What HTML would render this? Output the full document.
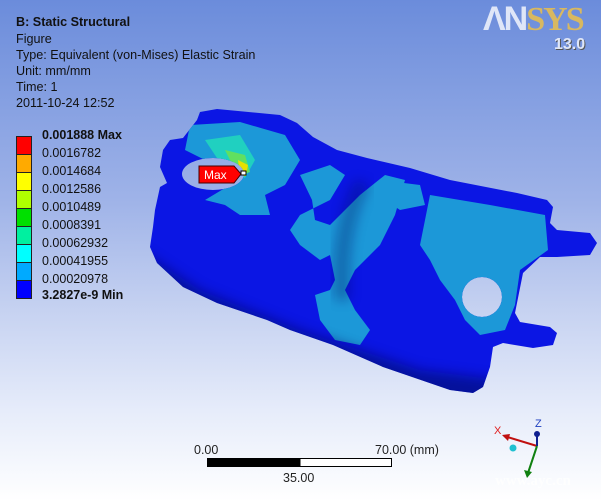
<!DOCTYPE html>
<html><head><meta charset="utf-8"><style>
html,body{margin:0;padding:0}
body{width:601px;height:501px;overflow:hidden;position:relative;font-family:"Liberation Sans",sans-serif;
background:linear-gradient(to bottom,#6b8cdb 0%,#9fb3e8 40%,#c6d2f1 62%,#e6ecfa 82%,#ffffff 100%)}
.t{position:absolute;left:16px;font-size:12.6px;color:#111;line-height:16px}
.lg{position:absolute;left:42px;font-size:12.5px;color:#111}
.sw{position:absolute;left:16px;width:16px;border:1px solid #222;box-sizing:border-box}
</style></head><body>
<div class="t" style="top:14px;font-weight:bold">B: Static Structural</div>
<div class="t" style="top:31px">Figure</div>
<div class="t" style="top:47px">Type: Equivalent (von-Mises) Elastic Strain</div>
<div class="t" style="top:63px">Unit: mm/mm</div>
<div class="t" style="top:79px">Time: 1</div>
<div class="t" style="top:95px">2011-10-24 12:52</div>

<div class="sw" style="top:136px;height:19px;background:#f00"></div>
<div class="sw" style="top:154px;height:19px;background:#ffaa00"></div>
<div class="sw" style="top:172px;height:19px;background:#ffff00"></div>
<div class="sw" style="top:190px;height:19px;background:#b0ff00"></div>
<div class="sw" style="top:208px;height:19px;background:#00e000"></div>
<div class="sw" style="top:226px;height:19px;background:#00f0a0"></div>
<div class="sw" style="top:244px;height:19px;background:#00ffff"></div>
<div class="sw" style="top:262px;height:19px;background:#00aaff"></div>
<div class="sw" style="top:280px;height:19px;background:#0000ff"></div>
<div class="lg" style="top:128px;font-weight:bold">0.001888 Max</div>
<div class="lg" style="top:146px">0.0016782</div>
<div class="lg" style="top:164px">0.0014684</div>
<div class="lg" style="top:182px">0.0012586</div>
<div class="lg" style="top:200px">0.0010489</div>
<div class="lg" style="top:218px">0.0008391</div>
<div class="lg" style="top:236px">0.00062932</div>
<div class="lg" style="top:254px">0.00041955</div>
<div class="lg" style="top:272px">0.00020978</div>
<div class="lg" style="top:288px;font-weight:bold">3.2827e-9 Min</div>

<div style="position:absolute;left:483px;top:0;font:bold 34px 'Liberation Sans',sans-serif;letter-spacing:-2px;color:#dfe6f8"><span>&Lambda;N</span><span style="font-family:'Liberation Serif',serif;color:#d8b860">SYS</span></div>
<div style="position:absolute;left:554px;top:36px;font:bold 16px 'Liberation Sans',sans-serif;color:#dfe6f8;text-shadow:1px 1px 0 #555">13.0</div>

<svg width="601" height="501" style="position:absolute;left:0;top:0">
<defs>
<clipPath id="cp"><path clip-rule="evenodd" d="M163,150 L170,140 183,138 197,120 200,112 217,109 280,115 297,123 313,137 337,150 367,158 410,168 450,180 517,193 547,200 553,207 550,223 557,230 590,233 597,243 590,255 557,257 540,257 523,273 515,313 520,322 550,327 557,333 553,345 533,348 503,343 493,347 490,367 483,387 473,393 450,390 383,367 333,345 290,330 267,320 217,303 183,287 157,263 150,247 153,227 155,210 160,187 167,183 160,167 Z M182,174 A31,16 0 1 0 244,174 A31,16 0 1 0 182,174 Z M462,297 A20,20 0 1 0 502,297 A20,20 0 1 0 462,297 Z"/></clipPath>
<filter id="b"><feGaussianBlur stdDeviation="6"/></filter>
</defs>
<g clip-path="url(#cp)">
<rect x="140" y="100" width="470" height="300" fill="#0b16e4"/>
<g fill="#1c98d8">
<polygon points="190,125 240,122 285,135 300,160 285,185 265,195 270,215 240,215 225,205 205,200 230,185 245,175 215,165 185,150"/>
<polygon points="300,175 330,165 345,175 330,200 300,215 290,230 300,245 320,260 330,255 335,280 330,290 315,295 320,320 335,340 360,345 370,330 355,310 345,290 355,270 370,255 380,245 395,215 405,180 385,175 360,195 345,210 330,225 315,220 312,200"/>
<polygon points="430,195 490,205 545,215 548,250 520,270 515,305 505,330 480,335 465,320 455,300 440,280 430,260 420,245"/>
<polygon points="380,180 420,185 425,205 400,210 385,200"/>
</g>
<g fill="#20d0c0"><polygon points="205,140 240,135 255,160 245,178 225,170"/></g>
<polygon points="225,150 245,155 250,172 238,176" fill="#60e060"/>
<polygon points="238,160 248,165 246,176 240,176" fill="#e8e000"/>
<path d="M140,250 L200,290 300,330 420,370 500,380 500,420 140,420 Z" fill="#000860" opacity="0.55" filter="url(#b)"/>
<path d="M355,180 Q330,230 335,300 L350,300 Q345,230 370,185 Z" fill="#000860" opacity="0.35" filter="url(#b)"/>
</g>
<polygon points="199,166 234,166 241,174 234,183 199,183" fill="#f00" stroke="#400" stroke-width="1"/>
<text x="204" y="179" font-family="Liberation Sans,sans-serif" font-size="12" fill="#fff">Max</text>
<rect x="241" y="171" width="5" height="4" fill="#fff" stroke="#000" stroke-width="1"/>

<text x="194" y="454" font-family="Liberation Sans,sans-serif" font-size="12.5" fill="#222">0.00</text>
<text x="375" y="454" font-family="Liberation Sans,sans-serif" font-size="12.5" fill="#222">70.00 (mm)</text>
<rect x="207.5" y="458.5" width="184" height="8" fill="#fff" stroke="#000"/>
<rect x="207.5" y="458.5" width="93" height="8" fill="#000"/>
<text x="283" y="482" font-family="Liberation Sans,sans-serif" font-size="12.5" fill="#222">35.00</text>

<line x1="537" y1="446" x2="504" y2="436" stroke="#c01010" stroke-width="2"/>
<polygon points="502,435 510,434 508,441" fill="#c01010"/>
<text x="494" y="434" font-family="Liberation Sans,sans-serif" font-size="11" fill="#e02020">X</text>
<line x1="537" y1="446" x2="537" y2="434" stroke="#102090" stroke-width="2"/>
<circle cx="537" cy="434" r="3" fill="#102090"/>
<text x="535" y="427" font-family="Liberation Sans,sans-serif" font-size="11" fill="#2040c0">Z</text>
<line x1="537" y1="446" x2="528" y2="473" stroke="#108010" stroke-width="2"/>
<polygon points="524,470 532,472 527,478" fill="#108010"/>
<circle cx="513" cy="448" r="3.5" fill="#20c0d0"/>
<text x="495" y="485" font-family="Liberation Serif,serif" font-size="15" font-weight="bold" fill="#fff" opacity="0.8">www.ayc.cn</text>
</svg>
</body></html>
